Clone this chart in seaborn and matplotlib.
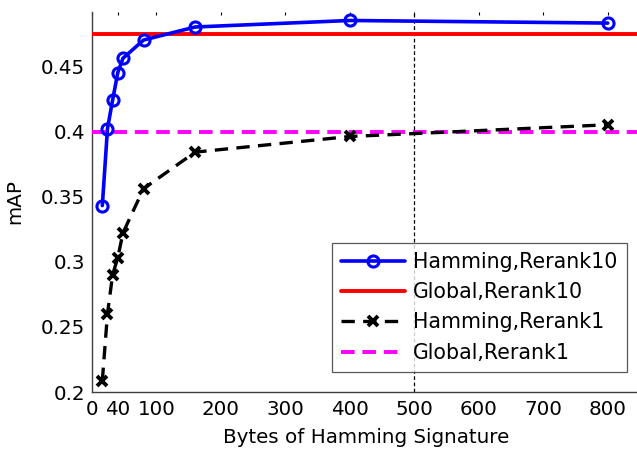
import matplotlib
matplotlib.use("Agg")
import matplotlib.pyplot as plt
import seaborn as sns
import numpy as np

# Data
bytes_sig = [16, 24, 32, 40, 48, 80, 160, 400, 800]
hamming_rerank10 = [0.343, 0.402, 0.424, 0.445, 0.456, 0.470, 0.480, 0.485, 0.483]
hamming_rerank1 = [0.2085, 0.260, 0.290, 0.303, 0.322, 0.356, 0.384, 0.396, 0.405]
global_rerank10 = 0.475
global_rerank1 = 0.3995
x_ticks = [0, 40, 100, 200, 300, 400, 500, 600, 700, 800]
y_ticks = [0.2, 0.25, 0.3, 0.35, 0.4, 0.45]
labels = ["Hamming,Rerank10", "Global,Rerank10", "Hamming,Rerank1", "Global,Rerank1"]

sns.set_style("white")
plt.rcParams["font.family"] = ["DejaVu Sans"]
plt.rcParams["text.color"] = "black"
plt.rcParams["axes.labelcolor"] = "black"
plt.rcParams["xtick.color"] = "black"
plt.rcParams["ytick.color"] = "black"

FS = 14.3
LFS = 14.8

fig = plt.figure(figsize=(6.37, 4.51), dpi=100)
ax = fig.add_axes([92 / 637, 59 / 451, 548 / 637, 380 / 451])

# vertical dashed line at 500
ax.axvline(500, color="black", lw=0.9, ls=(0, (3, 2)), zorder=1)

sns.lineplot(x=bytes_sig, y=hamming_rerank10, ax=ax, color="#0000ff", lw=2.6,
             marker="o", markersize=8, markerfacecolor="none", markeredgewidth=2.2,
             markeredgecolor="#0000ff", label=labels[0], zorder=4)
ax.axhline(global_rerank10, color="#ff0000", lw=2.8, label=labels[1], zorder=3)
sns.lineplot(x=bytes_sig, y=hamming_rerank1, ax=ax, color="black", lw=2.4,
             linestyle=(0, (4, 2.5)), marker="x", markersize=7.5, markeredgewidth=2.8,
             markeredgecolor="black", label=labels[2], zorder=4)
ax.axhline(global_rerank1, color="#ff00ff", lw=2.8, ls=(0, (3.5, 2)), label=labels[3], zorder=3)

ax.set_xlim(0, 850)
ax.set_ylim(0.2, 0.4915)
ax.set_xticks(x_ticks)
ax.set_xticklabels([str(t) for t in x_ticks])
ax.set_yticks(y_ticks)
ax.set_yticklabels(["0.2", "0.25", "0.3", "0.35", "0.4", "0.45"])

ax.tick_params(axis="both", direction="in", length=2.5, width=0.8, color="black",
               labelcolor="black", labelsize=FS, top=True, right=True)
ax.tick_params(axis="y", pad=5)
ax.tick_params(axis="x", pad=6)
ax.spines["top"].set_visible(False)
for s in ["left", "bottom", "right"]:
    ax.spines[s].set_color("#404040")
    ax.spines[s].set_linewidth(1.0)

ax.set_xlabel("Bytes of Hamming Signature", fontsize=FS, labelpad=6, color="black")
ax.set_ylabel("mAP", fontsize=FS, color="black")
ax.yaxis.set_label_coords(-0.124, 0.5)

leg = ax.legend(loc="lower right", bbox_to_anchor=(0.976, 0.0526), fontsize=LFS,
                frameon=True, fancybox=False, edgecolor="#303030", handlelength=3.1,
                handletextpad=0.4, labelspacing=0.5, borderpad=0.45, borderaxespad=0,
                labelcolor="black")
leg.get_frame().set_linewidth(0.9)

fig.savefig("out.png", dpi=100)
